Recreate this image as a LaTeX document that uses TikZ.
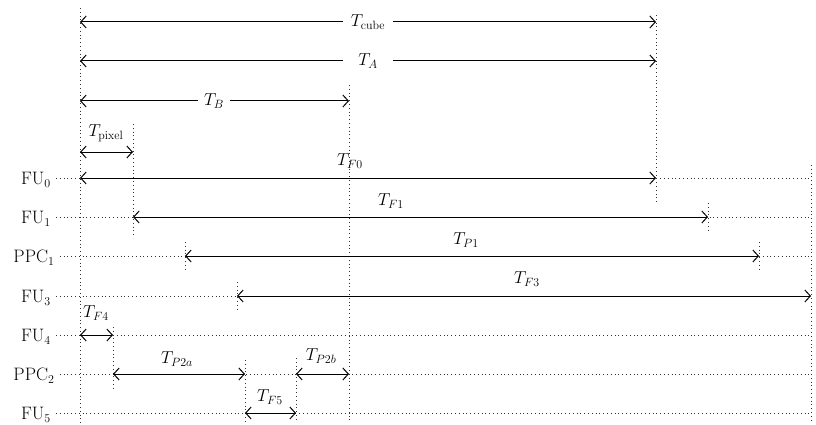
\documentclass[tikz,border=0pt]{standalone}
\usetikzlibrary{arrows.meta}
\begin{document}
\begin{tikzpicture}[x=1pt,y=-1pt,
  txt/.style={font=\fontsize{18}{21}\selectfont, inner sep=1pt},
  gapl/.style={txt, fill=white, inner xsep=0pt},
  dim/.style={line width=1pt, {Straight Barb[length=5.5pt,width=12pt,line width=1pt]}-{Straight Barb[length=5.5pt,width=12pt,line width=1pt]}},
  dot/.style={line width=0.8pt, dash pattern=on 0.8pt off 3pt, black!80},
]
\useasboundingbox (0,0) rectangle (816,425);

% vertical dotted guides
\draw[dot] (80,8) -- (80,423);
\draw[dot] (133,124) -- (133,238);
\draw[dot] (349,85) -- (349,423);
\draw[dot] (656,15) -- (656,203);
\draw[dot] (708,203) -- (708,232);
\draw[dot] (759,242) -- (759,270);
\draw[dot] (811,165) -- (811,423);
\draw[dot] (185,242) -- (185,270);
\draw[dot] (237,282) -- (237,310);
\draw[dot] (113,327) -- (113,388);
\draw[dot] (245,360) -- (245,423);
\draw[dot] (296,358) -- (296,420);

% row labels
\node[txt] (fu0)  at (36,180) {FU$_0$};
\node[txt] (fu1)  at (36,219) {FU$_1$};
\node[txt] (ppc1) at (34,258) {PPC$_1$};
\node[txt] (fu3)  at (36,298) {FU$_3$};
\node[txt] (fu4)  at (36,337) {FU$_4$};
\node[txt] (ppc2) at (34,376) {PPC$_2$};
\node[txt] (fu5)  at (36,415) {FU$_5$};

% row end coordinates
\coordinate (r0) at (811,178);
\coordinate (r1) at (811,217);
\coordinate (r2) at (811,256);
\coordinate (r3) at (811,296);
\coordinate (r4) at (811,335);
\coordinate (r5) at (811,374);
\coordinate (r6) at (811,413);

\draw[dot] (fu0.east |- r0) ++(4,0) -- (r0);
\draw[dot] (fu1.east |- r1) ++(4,0) -- (r1);
\draw[dot] (ppc1.east |- r2) ++(4,0) -- (r2);
\draw[dot] (fu3.east |- r3) ++(4,0) -- (r3);
\draw[dot] (fu4.east |- r4) ++(4,0) -- (r4);
\draw[dot] (ppc2.east |- r5) ++(4,0) -- (r5);
\draw[dot] (fu5.east |- r6) ++(4,0) -- (r6);

% arrow end points
\coordinate (c1) at (80,22);   \coordinate (c2) at (656,22);
\coordinate (a1) at (80,61);   \coordinate (a2) at (656,61);
\coordinate (b1) at (80,101);  \coordinate (b2) at (349,101);
\coordinate (p1) at (80,152);  \coordinate (p2) at (133,152);
\coordinate (f01) at (80,178); \coordinate (f02) at (656,178);
\coordinate (f11) at (133,217); \coordinate (f12) at (708,217);
\coordinate (q11) at (185,256); \coordinate (q12) at (759,256);
\coordinate (f31) at (237,296); \coordinate (f32) at (811,296);
\coordinate (f41) at (80,335); \coordinate (f42) at (113,335);
\coordinate (q21) at (113,374); \coordinate (q22) at (245,374);
\coordinate (q31) at (296,374); \coordinate (q32) at (349,374);
\coordinate (f51) at (245,413); \coordinate (f52) at (296,413);

\draw[dim] (c1) -- (c2);
\draw[dim] (a1) -- (a2);
\draw[dim] (b1) -- (b2);
\draw[dim] (p1) -- (p2);
\draw[dim] (f01) -- (f02);
\draw[dim] (f11) -- (f12);
\draw[dim] (q11) -- (q12);
\draw[dim] (f31) -- (f32);
\draw[dim] (f41) -- (f42);
\draw[dim] (q21) -- (q22);
\draw[dim] (q31) -- (q32);
\draw[dim] (f51) -- (f52);

% labels on lines
\node[gapl, minimum width=50pt] (lcube) at (368,22) {$T_{\mathrm{cube}}$};
\node[gapl, minimum width=50pt] (lA) at (368,61) {$T_A$};
\node[gapl, minimum width=32pt] (lB) at (214,101) {$T_B$};

% labels above lines
\node[txt] (lpix) at (106,133) {$T_{\mathrm{pixel}}$};
\node[txt] (lf0) at (350,161) {$T_{F0}$};
\node[txt] (lf1) at (391,201) {$T_{F1}$};
\node[txt] (lp1) at (466,240) {$T_{P1}$};
\node[txt] (lf3) at (527,279) {$T_{F3}$};
\node[txt] (lf4) at (96,313) {$T_{F4}$};
\node[txt] (lp2a) at (177,359) {$T_{P2a}$};
\node[txt] (lp2b) at (321,356) {$T_{P2b}$};
\node[txt] (lf5) at (270,397) {$T_{F5}$};
\end{tikzpicture}
\end{document}
